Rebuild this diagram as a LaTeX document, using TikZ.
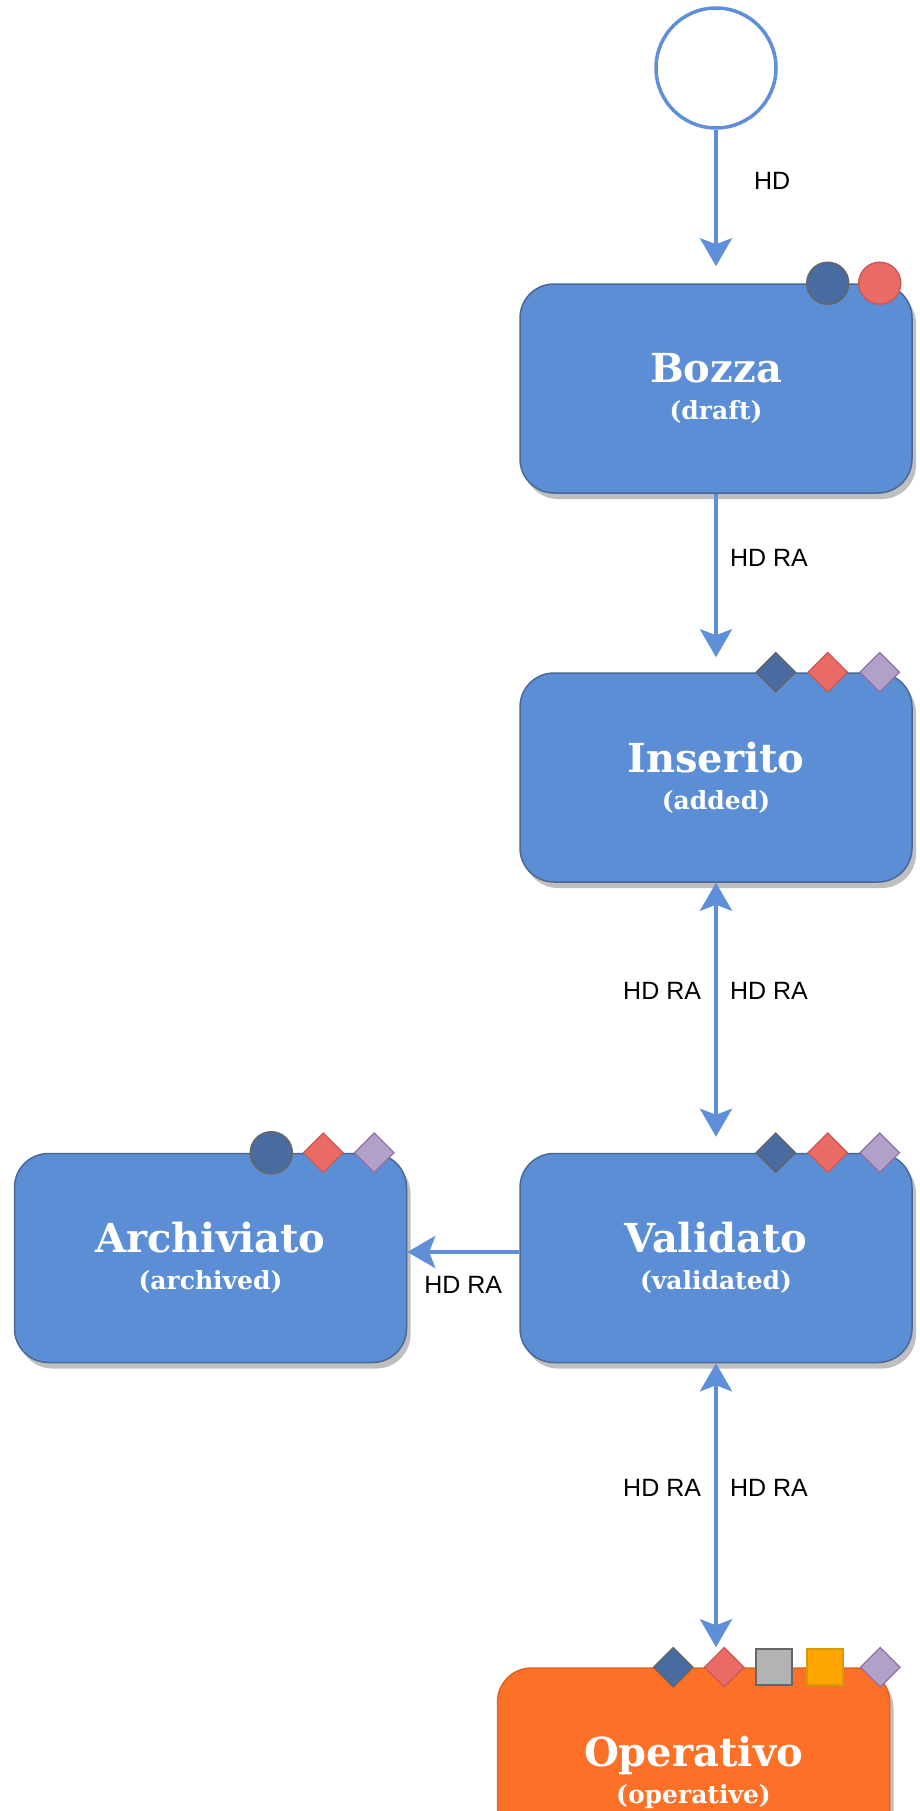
\documentclass[tikz,border=0pt]{standalone}
\usepackage{fontspec}
\setmainfont{DejaVu Serif}
\newfontfamily\lblfont{Liberation Sans}
\usetikzlibrary{arrows.meta,shapes.geometric,shadows}

\definecolor{stateblue}{RGB}{92,142,214}
\definecolor{stateline}{RGB}{74,104,150}
\definecolor{operorange}{RGB}{253,112,40}
\definecolor{operline}{RGB}{225,100,30}
\definecolor{flowblue}{RGB}{94,143,216}
\definecolor{navyfill}{RGB}{72,107,160}
\definecolor{redfill}{RGB}{234,107,102}
\definecolor{redline}{RGB}{200,90,88}
\definecolor{lilacfill}{RGB}{177,161,201}
\definecolor{lilacline}{RGB}{150,110,160}
\definecolor{greyfill}{RGB}{179,179,179}
\definecolor{greyline}{RGB}{102,102,102}
\definecolor{orangefill}{RGB}{255,165,0}
\definecolor{orangeline}{RGB}{215,155,0}

\newcommand{\statetitle}{\bfseries\fontsize{40}{40}\selectfont}
\newcommand{\statesub}{\bfseries\fontsize{25}{37}\selectfont}

\tikzset{
  state/.style={draw=stateline, fill=stateblue, line width=1.5pt,
    rounded corners=34pt, minimum width=392pt, minimum height=209pt,
    align=center, text=white, font=\statesub,
    drop shadow={shadow xshift=4pt, shadow yshift=-6pt, fill=black!25, opacity=1}},
  flow/.style={draw=flowblue, line width=4pt, -{Stealth[length=28pt,width=32pt,inset=6pt]}},
  biflow/.style={draw=flowblue, line width=4pt, {Stealth[length=28pt,width=32pt,inset=6pt]}-{Stealth[length=28pt,width=32pt,inset=6pt]}},
  lbl/.style={inner sep=0pt, font=\lblfont\fontsize{25}{25}\selectfont},
  mdot/.style={circle, minimum size=42pt, inner sep=0pt, line width=1.5pt},
  mdiam/.style={diamond, minimum size=40pt, inner sep=0pt, line width=1.2pt},
  msq/.style={rectangle, minimum size=36pt, inner sep=0pt, line width=2pt},
  mnavy/.style={fill=navyfill, draw=greyline},
  mred/.style={fill=redfill, draw=redline},
  mlilac/.style={fill=lilacfill, draw=lilacline},
  mgrey/.style={fill=greyfill, draw=greyline},
  morange/.style={fill=orangefill, draw=orangeline}
}

\begin{document}
\begin{tikzpicture}[x=1pt,y=-1pt]
  \useasboundingbox (0,0) rectangle (919,1811);

  % Start
  \node[circle, draw=flowblue, line width=3.5pt, fill=white, minimum size=120pt] (start) at (716,68) {};

  % States
  \node[state] (bozza) at (716,388.5) {{\statetitle Bozza}\\(draft)};
  \node[state] (inserito) at (716,777.5) {{\statetitle Inserito}\\(added)};
  \node[state] (validato) at (716,1258) {{\statetitle Validato}\\(validated)};
  \node[state] (archiviato) at (210.5,1258) {{\statetitle Archiviato}\\(archived)};
  \node[state, fill=operorange, draw=operline] (operativo) at (693.5,1772.5) {{\statetitle Operativo}\\(operative)};

  % Markers
  \foreach \dx/\shp/\col [count=\i] in {-85/mdot/mnavy, -33/mdot/mred}
    \node[\shp,\col] (bozza-m\i) at ([xshift=\dx pt]bozza.north east) {};
  \foreach \dx/\shp/\col [count=\i] in {-137/mdiam/mnavy, -85/mdiam/mred, -33/mdiam/mlilac}
    \node[\shp,\col] (inserito-m\i) at ([xshift=\dx pt]inserito.north east) {};
  \foreach \dx/\shp/\col [count=\i] in {-137/mdiam/mnavy, -85/mdiam/mred, -33/mdiam/mlilac}
    \node[\shp,\col] (validato-m\i) at ([xshift=\dx pt]validato.north east) {};
  \foreach \dx/\shp/\col [count=\i] in {-136/mdot/mnavy, -84/mdiam/mred, -33/mdiam/mlilac}
    \node[\shp,\col] (archiviato-m\i) at ([xshift=\dx pt]archiviato.north east) {};
  \foreach \dx/\shp/\col [count=\i] in {-217/mdiam/mnavy, -166/mdiam/mred, -116/msq/mgrey, -65/msq/morange, -10/mdiam/mlilac}
    \node[\shp,\col] (operativo-m\i) at ([xshift=\dx pt]operativo.north east) {};

  % Transitions
  \draw[flow, shorten >=17pt] (start) -- node[lbl, pos=.33, right=36pt] (t1) {HD} (bozza);
  \draw[flow, shorten >=15pt] (bozza) -- node[lbl, pos=.36, right=12pt] (t2) {HD RA} (inserito);
  \draw[biflow, shorten >=16pt] (inserito) --
    node[lbl, pos=.40, left=13pt] (t3a) {HD RA}
    node[lbl, pos=.40, right=12pt] (t3b) {HD RA} (validato);
  \draw[flow] ([yshift=6pt]validato.west) -- node[lbl, midway, below=22pt] (t4) {HD RA} ([yshift=6pt]archiviato.east);
  \draw[biflow, shorten >=20pt] (validato.south) --
    node[lbl, pos=.41, left=13pt] (t5a) {HD RA}
    node[lbl, pos=.41, right=12pt] (t5b) {HD RA} (validato.south |- operativo.north);
\end{tikzpicture}
\end{document}
